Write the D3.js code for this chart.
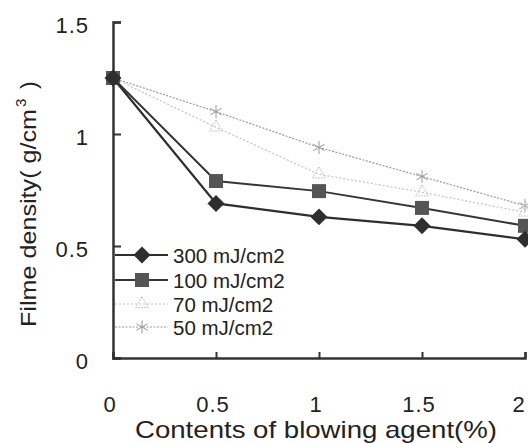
<!DOCTYPE html>
<html>
<head>
<meta charset="utf-8">
<script src="https://cdn.jsdelivr.net/npm/d3@7"></script>
<style>
  body { margin: 0; background: #fff; }
  text { font-family: "Liberation Sans", Arial, sans-serif; fill: #222; }
</style>
</head>
<body>
<div id="chart"></div>
<script>
const xValues = [0, 0.5, 1, 1.5, 2];
const seriesNames = ["300 mJ/cm2", "100 mJ/cm2", "70 mJ/cm2", "50 mJ/cm2"];
const s300 = [1.25, 0.69, 0.63, 0.59, 0.53];
const s100 = [1.25, 0.79, 0.745, 0.67, 0.59];
const s70 = [1.25, 1.03, 0.82, 0.74, 0.65];
const s50 = [1.25, 1.10, 0.94, 0.81, 0.68];
const xTicks = [0, 0.5, 1, 1.5, 2];
const yTicks = [0, 0.5, 1, 1.5];

const width = 528, height = 443;
const margin = { top: 22, right: 3, bottom: 85, left: 113 };

const svg = d3.select("#chart").append("svg")
  .attr("width", width).attr("height", height);

const x = d3.scaleLinear().domain([0, 2]).range([margin.left, width - margin.right]);
const y = d3.scaleLinear().domain([0, 1.5]).range([height - margin.bottom, margin.top]);

// styles per series
const styles = [
  { data: s300, color: "#2e2e2e", width: 2.2, dash: null, marker: "diamond" },
  { data: s100, color: "#363636", width: 2, dash: null, marker: "square" },
  { data: s70, color: "#c4c4c4", width: 1.2, dash: "2,2", marker: "triangle" },
  { data: s50, color: "#9a9a9a", width: 1.2, dash: "2,1.5", marker: "star" }
];

// axes (ticks point inward)
const xAxis = svg.append("g")
  .attr("transform", `translate(0,${y(0)})`)
  .call(d3.axisBottom(x).tickValues(xTicks).tickSize(-6).tickFormat(""));
const yAxis = svg.append("g")
  .attr("transform", `translate(${x(0)},0)`)
  .call(d3.axisLeft(y).tickValues(yTicks).tickSize(-8).tickFormat(""));
[xAxis, yAxis].forEach(g => {
  g.select(".domain").attr("stroke", "#333").attr("stroke-width", 2.5);
  g.selectAll(".tick line").attr("stroke", "#333").attr("stroke-width", 2);
});

// tick labels
svg.selectAll(".xlab").data(xTicks).join("text")
  .attr("x", d => Math.min(x(d) - 3, 519)).attr("y", 412)
  .attr("text-anchor", "middle").style("font-size", "22px")
  .style("letter-spacing", "1px")
  .text(d => d);
svg.selectAll(".ylab").data(yTicks).join("text")
  .attr("x", 89).attr("y", d => y(d) + 11)
  .attr("text-anchor", "end").style("font-size", "22px")
  .style("letter-spacing", "1px")
  .text(d => d);

// axis titles
svg.append("text")
  .attr("x", 135).attr("y", 438)
  .attr("textLength", 362).attr("lengthAdjust", "spacingAndGlyphs")
  .style("font-size", "24px")
  .text("Contents of blowing agent(%)");
const yt = svg.append("text")
  .attr("transform", `translate(36,327) rotate(-90)`)
  .style("font-size", "22px");
yt.append("tspan").attr("textLength", 218).attr("lengthAdjust", "spacingAndGlyphs")
  .text("Filme density( g/cm");
yt.append("tspan").attr("dy", -10).attr("dx", 2).style("font-size", "15px").text("3");
yt.append("tspan").attr("dy", 10).attr("dx", 10).text(")");

// marker drawing
function drawMarker(g, type, cx, cy, color) {
  if (type === "diamond") {
    g.append("rect").attr("x", -6).attr("y", -6)
      .attr("width", 12).attr("height", 12)
      .attr("transform", `translate(${cx},${cy}) rotate(45)`).attr("fill", color);
  } else if (type === "square") {
    g.append("rect").attr("x", cx - 7).attr("y", cy - 7)
      .attr("width", 14).attr("height", 14).attr("fill", "#555");
  } else if (type === "triangle") {
    g.append("path").attr("d", d3.symbol(d3.symbolTriangle, 70)())
      .attr("transform", `translate(${cx},${cy})`)
      .attr("fill", "none").attr("stroke", color).attr("stroke-width", 1).attr("stroke-dasharray", "2,1");
  } else if (type === "star") {
    g.append("path").attr("d", d3.symbol(d3.symbolAsterisk, 120)())
      .attr("transform", `translate(${cx},${cy})`)
      .attr("fill", "none").attr("stroke", color).attr("stroke-width", 1);
  }
}

const line = d3.line().x((d, i) => x(xValues[i])).y(d => y(d));

// draw lighter series first
styles.slice().reverse().forEach(s => {
  const g = svg.append("g");
  g.append("path").datum(s.data)
    .attr("d", line).attr("fill", "none")
    .attr("stroke", s.color).attr("stroke-width", s.width)
    .attr("stroke-dasharray", s.dash);
  s.data.forEach((v, i) => drawMarker(g, s.marker, x(xValues[i]), y(v), s.color));
});

// legend
const legendY = [255, 280, 304, 327];
styles.forEach((s, i) => {
  const g = svg.append("g");
  g.append("line").attr("x1", 115).attr("x2", 168)
    .attr("y1", legendY[i]).attr("y2", legendY[i])
    .attr("stroke", s.color).attr("stroke-width", s.width > 1.5 ? 1.8 : 1)
    .attr("stroke-dasharray", s.dash);
  drawMarker(g, s.marker, 142, legendY[i], s.color);
  g.append("text").attr("x", 173).attr("y", legendY[i] + 8)
    .style("font-size", "20.5px").text(seriesNames[i]);
});
</script>
</body>
</html>
